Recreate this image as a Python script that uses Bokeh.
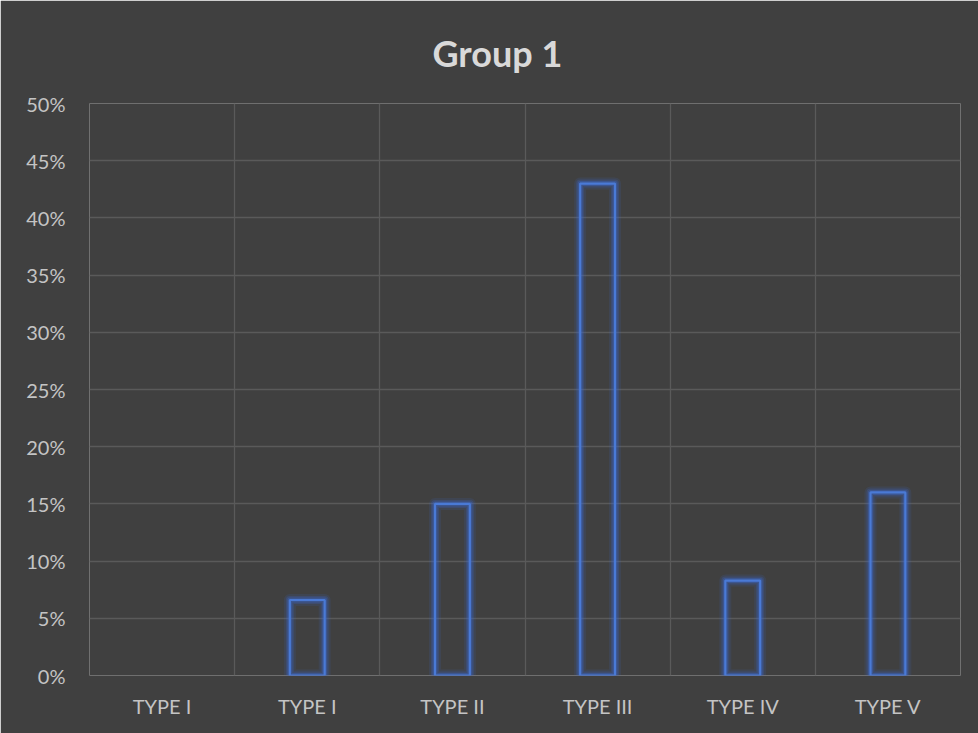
from bokeh.plotting import figure
from bokeh.models import ColumnDataSource, FixedTicker, NumeralTickFormatter, Range1d
from bokeh.embed import file_html
from bokeh.resources import INLINE

categories = ["TYPE I", "TYPE I", "TYPE II", "TYPE III", "TYPE IV", "TYPE V"]
values = [0.0, 0.066, 0.15, 0.43, 0.083, 0.16]
y_ticks = [0, 0.05, 0.10, 0.15, 0.20, 0.25, 0.30, 0.35, 0.40, 0.45, 0.50]

xs = list(range(len(categories)))

BG = "#404040"
p = figure(width=978, height=733, output_backend="svg", toolbar_location=None,
           x_range=Range1d(-0.5, len(categories) - 0.5), y_range=Range1d(0, 0.5),
           background_fill_color=BG, border_fill_color=BG,
           min_border_left=89, min_border_right=18, min_border_top=102, min_border_bottom=58,
           outline_line_color=None)

p.title.text = "Group 1"
p.title.align = "left"
p.title.offset = 343
p.title.text_font = "Lato"
p.title.text_font_size = "36px"
p.title.text_font_style = "bold"
p.title.text_color = "#d9d9d9"
p.title.standoff = 57

# glow layers (zero-valued bars drawn fully transparent)
for lw, a in [(12, 0.13), (8, 0.22), (5, 0.35)]:
    src = ColumnDataSource(dict(x=xs, top=values,
                                la=[a if v > 0 else 0.0 for v in values]))
    p.vbar(x="x", top="top", bottom=0, width=0.24, source=src, fill_alpha=0,
           line_color="#3a6ad0", line_width=lw, line_alpha="la", line_join="round")
src2 = ColumnDataSource(dict(x=xs, top=values,
                             la=[1.0 if v > 0 else 0.0 for v in values]))
p.vbar(x="x", top="top", bottom=0, width=0.24, source=src2, fill_alpha=0,
       line_color="#4a7ad6", line_width=2.2, line_alpha="la")

p.xaxis.ticker = FixedTicker(ticks=xs)
p.xaxis.major_label_overrides = {i: c for i, c in enumerate(categories)}
p.yaxis.ticker = FixedTicker(ticks=y_ticks)
p.yaxis.formatter = NumeralTickFormatter(format="0%")

for ax in (p.xaxis, p.yaxis):
    ax.axis_line_color = None
    ax.major_tick_line_color = None
    ax.minor_tick_line_color = None
    ax.major_label_text_font = "Lato"
    ax.major_label_text_font_size = "20px"
    ax.major_label_text_color = "#c4c4c4"
p.xaxis.major_label_standoff = 12
p.yaxis.major_label_standoff = 18

p.xgrid.ticker = FixedTicker(ticks=[i - 0.5 for i in range(len(categories) + 1)])
p.ygrid.ticker = FixedTicker(ticks=y_ticks)
p.xgrid.grid_line_color = "#5a5a5a"
p.ygrid.grid_line_color = "#5a5a5a"
p.xgrid.grid_line_width = 1.3
p.ygrid.grid_line_width = 1.3

open("out.html", "w").write(file_html(p, INLINE))
